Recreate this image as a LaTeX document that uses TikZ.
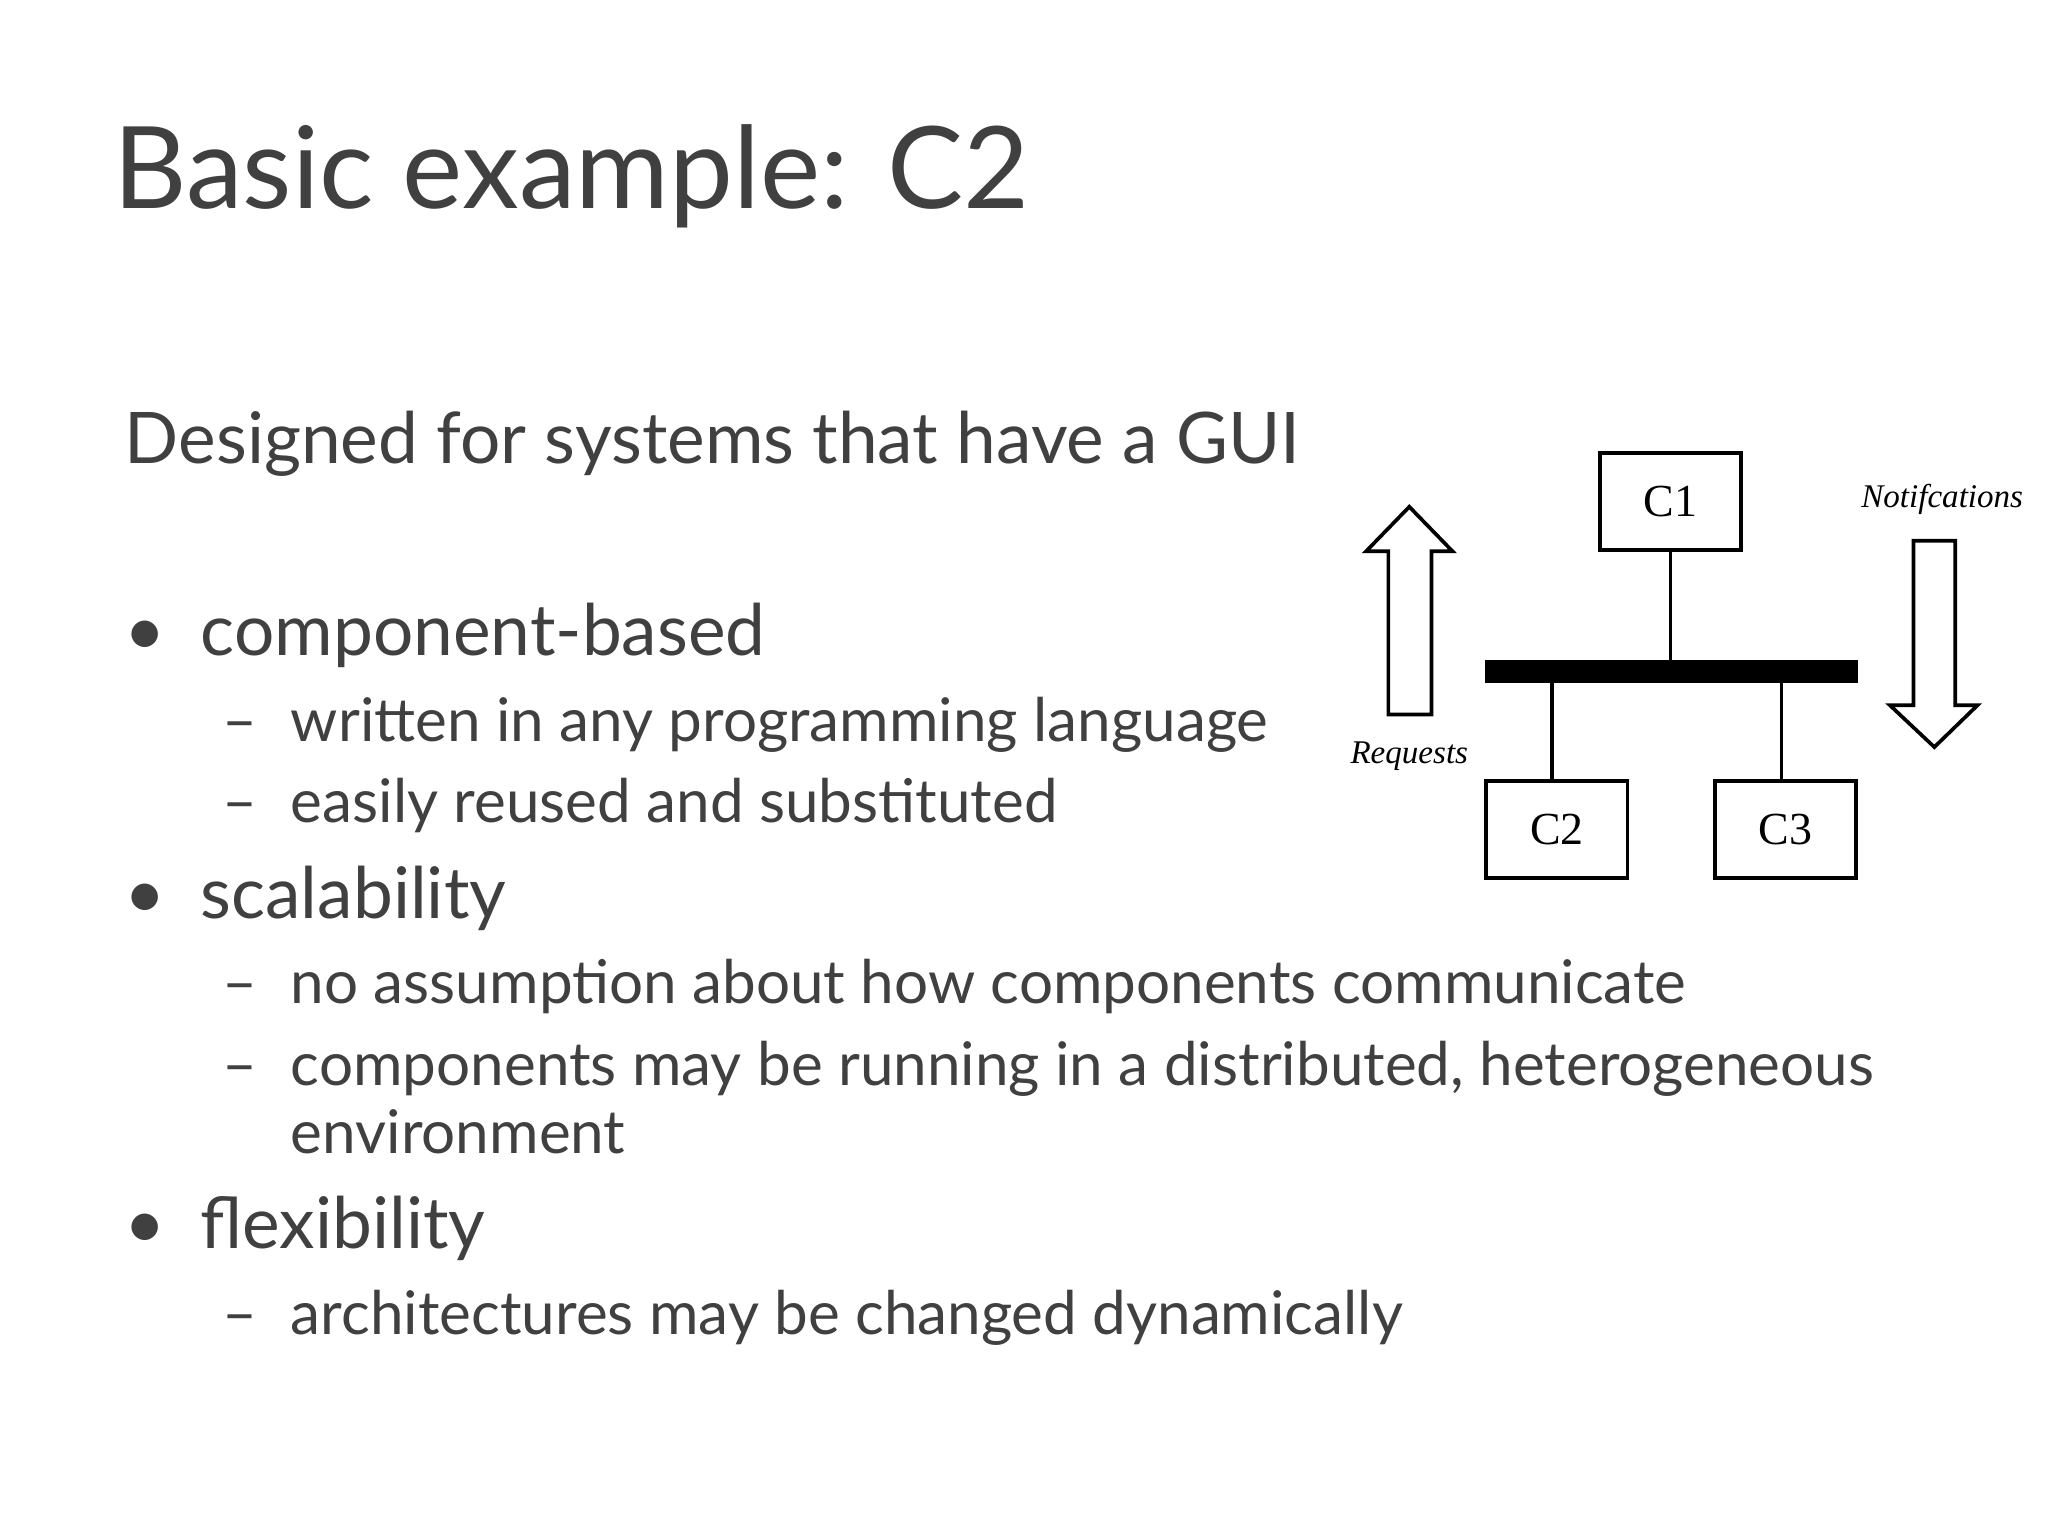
\documentclass[tikz,border=0pt]{standalone}
\usepackage{fontspec}
\setmainfont{Lato}
\newfontfamily\tms{Liberation Serif}
\begin{document}
\begin{tikzpicture}[x=0.01cm,y=-0.01cm,
  txt/.style={anchor=base west,inner sep=0,text=black!75},
  big/.style={txt,font=\fontsize{15.5pt}{18pt}\selectfont},
  sub/.style={txt,font=\fontsize{13.1pt}{16pt}\selectfont},
  comp/.style={draw,thick,minimum width=1.08cm,minimum height=0.74cm,font=\tms\fontsize{10pt}{12pt}\selectfont},
  fat/.style={draw,thick,fill=white}]
\useasboundingbox (0,0) rectangle (1568,1176);
\node[txt,font=\fontsize{24.8pt}{28pt}\selectfont] (title) at (86,160) {Basic example: C2};
\node[big] (d) at (95,355) {Designed for systems that have a GUI};
\foreach \y/\t [count=\i] in {502/component-based,703/scalability,956/flexibility}{
  \node[big] (b\i) at (153,\y) {\t};
  \node[big] (bb\i) at (95,\y) {•};}
\foreach \y/\t [count=\i] in {568/written in any programming language,630/easily reused and substituted,768/no assumption about how components communicate,831/{components may be running in a distributed, heterogeneous},1022/architectures may be changed dynamically}{
  \node[sub] (s\i) at (222,\y) {\t};
  \node[sub] (sd\i) at (170,\y) {–};}
\node[sub] (env) at (222,883) {environment};
% diagram
\node[comp] (c1) at (1279,384) {C1};
\node[comp] (c2) at (1192,635) {C2};
\node[comp] (c3) at (1367,635) {C3};
\node[draw,fill=black,minimum width=2.84cm,minimum height=0.16cm,inner sep=0] (bus) at (1280,514) {};
\draw[thick] (c1.south) -- (c1.south |- bus.north);
\draw[thick] (1188,522) coordinate (p2) -- (p2 |- c2.north);
\draw[thick] (1364,522) coordinate (p3) -- (p3 |- c3.north);
\draw[fat] (1063,547) -- (1063,422) -- (1046,422) -- (1079,388) -- (1112,422) -- (1096,422) -- (1096,547) -- cycle;
\draw[fat] (1465,414) -- (1465,540) -- (1447,540) -- (1481,572) -- (1514,540) -- (1497,540) -- (1497,414) -- cycle;
\node[font=\tms\itshape\fontsize{7.2pt}{9pt}\selectfont] (req) at (1079,579) {Requests};
\node[font=\tms\itshape\fontsize{7.2pt}{9pt}\selectfont] (not) at (1487,382) {Notifcations};
\end{tikzpicture}
\end{document}
